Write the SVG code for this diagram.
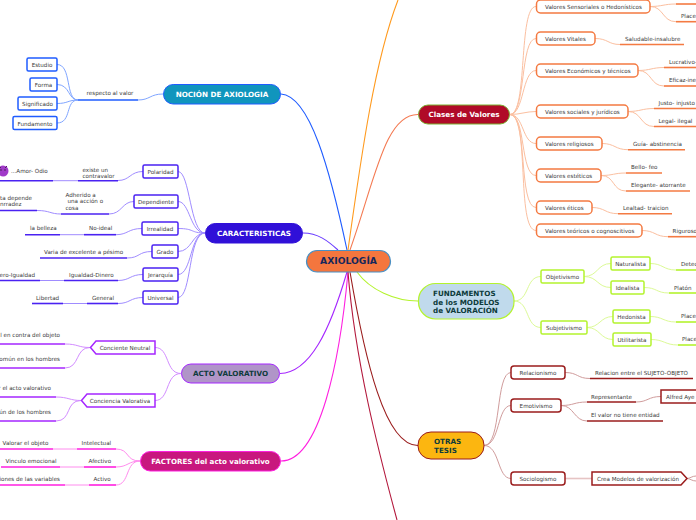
<svg xmlns="http://www.w3.org/2000/svg" width="696" height="520" viewBox="0 0 696 520">
<style>
text{font-family:"DejaVu Sans","Liberation Sans",sans-serif;font-size:5.6px;fill:#3a3a3a;}
.c{text-anchor:middle}
.h{font-weight:bold;font-size:7.2px;fill:#fff;text-anchor:middle}
.s{text-anchor:start}
.e{text-anchor:end}
.d{fill:#0d3b3b}
path,line{fill:none}
.n{fill:#fff;stroke-width:1.5}
.l{stroke-width:1.6}
.blu{stroke:#1f5cff}.pur{stroke:#4a22f2}.vio{stroke:#a526ff}.mag{stroke:#ff1fe0}.ora{stroke:#f47a42}.lim{stroke:#b4f32e}.red{stroke:#9a1c1c}
.m{stroke-width:1.1}
.cblu{stroke:#7fa5ff;stroke-width:1}.cpur{stroke:#a08cff;stroke-width:1}.cvio{stroke:#d28cff;stroke-width:1}.cmag{stroke:#ff8cee;stroke-width:1}.cora{stroke:#fbbfa0;stroke-width:1}.clim{stroke:#dcfa96;stroke-width:1}.cred{stroke:#d09c9c;stroke-width:1}
</style>
<g id="connectors">
<path d="M347 250C330 170 310 96 281 94" stroke="#1f5cff" class="m"/>
<path d="M338 250C328 241 318 233 303 233" stroke="#6a3cff" class="m"/>
<path d="M347 272C330 330 310 373 280 373.500" stroke="#a526ff" class="m"/>
<path d="M348 272C340 360 320 461 281 461" stroke="#ff1fe0" class="m"/>
<path d="M350 250C375 180 385 114 418 114.500" stroke="#f47a52" class="m"/>
<path d="M348 250C362 150 375 60 398 0" stroke="#ff9a1e" class="m"/>
<path d="M357 272C370 290 395 301 418 301" stroke="#b4f32e" class="m"/>
<path d="M350 272C365 360 385 446 418 445.500" stroke="#9a1c1c" class="m"/>
<path d="M348 272C355 360 378 450 397 520" stroke="#b3183c" class="m"/>
<path d="M138 100C150 100 150 94 163 94" class="cblu"/>
<path d="M78 100C65 100 72 64.500 57 64.500M78 100C68 100 70 84.500 57 84.500M78 100C68 100 68 103.500 57 103.500M78 100C65 100 72 123 57 123" class="cblu"/>
<path d="M205 233C190 233 190 171.500 178 171.500M205 233C190 233 190 201.500 178 201.500M205 233C190 233 195 228.500 178 228.500M205 233C192 233 192 251.500 178 251.500M205 233C190 233 192 274.500 178 274.500M205 233C188 233 192 297.500 178 297.500" class="cpur"/>
<path d="M118 180.500C130 180.500 130 171.500 143 171.500M109 214C122 214 122 201.500 134 201.500M116 234.700C128 234.700 128 228.500 142 228.500M127 258C140 258 138 251.500 152 251.500M118 280.500C130 280.500 130 274.500 143 274.500M118 303.500C130 303.500 130 297.500 143 297.500" class="cpur"/>
<path d="M53 180.700H78M37 210.500C50 210.500 50 214 61 214M60 234.700H84M40 280.500H64M63 303.500H87" class="cpur"/>
<path d="M181 373.500C165 373.500 170 347.500 155 347.500M181 373.500C165 373.500 170 400.500 155 400.500" class="cvio"/>
<path d="M65 344C78 344 78 347.500 90 347.500M65 368C80 368 75 347.500 90 347.500M56 397C68 397 70 400.500 81 400.500M56 421C72 421 65 400.500 81 400.500" class="cvio"/>
<path d="M140 461C125 461 130 449 116 449M140 461C128 461 128 467 116 467M140 461C125 461 130 485 116 485M53 449H77M60 467H84M65 485H89" class="cmag"/>
<path d="M510 114.500C528 114.500 518 6.500 536 6.500M510 114.500C526 114.500 520 38.500 536 38.500M510 114.500C524 114.500 522 70.500 536 70.500M510 114.500C520 114.500 526 111.500 536 111.500M510 114.500C524 114.500 522 143.500 536 143.500M510 114.500C526 114.500 520 175.500 536 175.500M510 114.500C528 114.500 518 207.500 536 207.500M510 114.500C530 114.500 516 230.500 536 230.500" class="cora"/>
<path d="M650 6.500C662 6.500 664 4 676 4M650 6.500C664 6.500 662 21.700 676 21.700M595 38.500C608 38.500 608 44.500 620 44.500M638 70.500C650 70.500 652 67.500 664 67.500M638 70.500C652 70.500 650 86 664 86M628 111.500C640 111.500 642 108.500 654 108.500M628 111.500C642 111.500 640 126.500 654 126.500M602 143.500C615 143.500 615 149.700 628 149.700M601 175.500C613 175.500 614 173 626 173M601 175.500C615 175.500 612 191 626 191M592 207.500C605 207.500 605 213.700 618 213.700M642 230.500C655 230.500 655 236.700 668 236.700" class="cora"/>
<path d="M514 301C530 301 525 276.500 541 276.500M514 301C530 301 525 327.500 541 327.500" class="clim"/>
<path d="M584 276.500C598 276.500 597 263.500 611 263.500M584 276.500C598 276.500 597 287.500 611 287.500M587 327.500C600 327.500 600 316.500 613 316.500M587 327.500C600 327.500 600 339.500 613 339.500M650 263.500C663 263.500 663 270 676 270M644 287.500C657 287.500 656 293 669 293M650 316.500C663 316.500 663 322 676 322M651 339.500C664 339.500 665 345 678 345" class="clim"/>
<path d="M484 445.500C502 445.500 495 372.500 511 372.500M484 445.500C500 445.500 497 405.500 511 405.500M484 445.500C500 445.500 497 478.500 511 478.500" class="cred"/>
<path d="M565 372.500C578 372.500 577 378.500 590 378.500M561 405.500C574 405.500 574 402 587 402M561 405.500C574 405.500 574 421 587 421M636 402C648 402 648 396.500 661 396.500" class="cred"/>
<path d="M565 478.500H592" stroke="#e6c4c4" stroke-width="1.600"/>
<path d="M687 478.500C690 478.500 692 476 696 476M687 478.500C690 478.500 692 481 696 481" class="cred"/>
</g>
<g id="axiologia"><rect x="306.500" y="250.500" width="84" height="21.500" rx="10.700" fill="#f4763e" stroke="#4a90c4" stroke-width="1.200"/><text x="348.500" y="264.300" class="h" style="fill:#15275c;font-size:9.200px">AXIOLOGÍA</text></g>

<g id="nocion"><rect x="163.500" y="84.500" width="117" height="19.500" rx="9.700" fill="#1095bd" stroke="#1f5cff" stroke-width="1"/><text x="222" y="97" class="h">NOCIÓN DE AXIOLOGIA</text></g>
<g id="respecto"><text x="110" y="95.200" class="c">respecto al valor</text><line x1="78" y1="100" x2="138" y2="100" class="l blu"/></g>
<g id="estudio"><rect x="27" y="58" width="30" height="13" rx="1.500" class="n blu"/><text x="42" y="67" class="c">Estudio</text></g>
<g id="forma"><rect x="30" y="78" width="27" height="13" rx="1.500" class="n blu"/><text x="43.500" y="86.500" class="c">Forma</text></g>
<g id="significado"><rect x="18" y="97" width="39" height="13" rx="1.500" class="n blu"/><text x="37.500" y="106" class="c">Significado</text></g>
<g id="fundamento"><rect x="13" y="116.500" width="44" height="13" rx="1.500" class="n blu"/><text x="35" y="125.500" class="c">Fundamento</text></g>

<g id="caracteristicas"><rect x="205.500" y="223.500" width="97" height="19.500" rx="9.700" fill="#3010d8" stroke="#3010d8"/><text x="254" y="236" class="h">CARACTERISTICAS</text></g>
<g id="polaridad"><rect x="143" y="165" width="35" height="13" rx="1.500" class="n pur"/><text x="160.500" y="174" class="c">Polaridad</text></g>
<g id="dependiente"><rect x="134" y="195" width="44" height="13" rx="1.500" class="n pur"/><text x="156" y="204" class="c">Dependiente</text></g>
<g id="irrealidad"><rect x="142" y="222" width="36" height="13" rx="1.500" class="n pur"/><text x="160" y="231" class="c">Irrealidad</text></g>
<g id="grado"><rect x="152" y="245" width="26" height="13" rx="1.500" class="n pur"/><text x="165" y="254" class="c">Grado</text></g>
<g id="jerarquia"><rect x="143" y="268" width="35" height="13" rx="1.500" class="n pur"/><text x="160.500" y="277" class="c">Jerarquía</text></g>
<g id="universal"><rect x="143" y="291" width="35" height="13" rx="1.500" class="n pur"/><text x="160.500" y="300" class="c">Universal</text></g>
<g id="contravalor"><text x="82.500" y="171.800">existe un</text><text x="82.500" y="177.800">contravalor</text><line x1="78" y1="180.700" x2="118" y2="180.700" class="l pur"/></g>
<g id="amor"><circle cx="3" cy="171" r="5.500" fill="#a03ac8"/><path d="M-1 166L1 168M7 166L5 168" stroke="#502060"/><circle cx="1" cy="170" r=".8" fill="#402050"/><circle cx="5" cy="170" r=".8" fill="#402050"/><text x="11" y="173">...Amor- Odio</text><line x1="0" y1="180.700" x2="53" y2="180.700" class="l pur"/></g>
<g id="adherido"><text x="65.500" y="197">Adherido a</text><text x="67.500" y="203">una acción o</text><text x="65.500" y="210">cosa</text><line x1="61" y1="214" x2="109" y2="214" class="l pur"/></g>
<g id="honradez"><text x="0" y="200">ta depende</text><text x="0" y="206">nrradez</text><line x1="0" y1="210.500" x2="37" y2="210.500" class="l pur"/></g>
<g id="noideal"><text x="89" y="230">No-ideal</text><line x1="84" y1="234.700" x2="116" y2="234.700" class="l pur"/></g>
<g id="belleza"><text x="30" y="230">la belleza</text><line x1="25" y1="234.700" x2="60" y2="234.700" class="l pur"/></g>
<g id="varia"><text x="44" y="253.500">Varia de excelente a pésimo</text><line x1="40" y1="258" x2="127" y2="258" class="l pur"/></g>
<g id="igualdad"><text x="69" y="276.500">Igualdad-Dinero</text><line x1="64" y1="280.500" x2="118" y2="280.500" class="l pur"/></g>
<g id="dinero"><text x="35" y="276.500" class="e">ero-Igualdad</text><line x1="0" y1="280.500" x2="40" y2="280.500" class="l pur"/></g>
<g id="general"><text x="92" y="299.500">General</text><line x1="87" y1="303.500" x2="118" y2="303.500" class="l pur"/></g>
<g id="libertad"><text x="36" y="299.500">Libertad</text><line x1="32" y1="303.500" x2="63" y2="303.500" class="l pur"/></g>

<g id="acto"><rect x="181.500" y="364" width="98" height="19" rx="9.500" fill="#b095c8" stroke="#a526ff"/><text x="230.500" y="376" class="h d">ACTO VALORATIVO</text></g>
<g id="neutral"><path d="M155 341H96L90.500 347.500L96 354H155Z" class="n vio"/><text x="125" y="349.500" class="c">Conciente Neutral</text></g>
<g id="valorativa"><path d="M155 394H87L81.500 400.500L87 407H155Z" class="n vio"/><text x="120" y="402.500" class="c">Conciencia Valorativa</text></g>
<g id="contra"><text x="60" y="337" class="e">l en contra del objeto</text><line x1="0" y1="344" x2="65" y2="344" class="l vio"/></g>
<g id="comun1"><text x="60" y="361" class="e">omún en los hombres</text><line x1="0" y1="368" x2="65" y2="368" class="l vio"/></g>
<g id="acto2"><text x="51" y="390" class="e">r el acto valorativo</text><line x1="0" y1="397" x2="56" y2="397" class="l vio"/></g>
<g id="comun2"><text x="51" y="414" class="e">ún de los hombres</text><line x1="0" y1="421" x2="56" y2="421" class="l vio"/></g>

<g id="factores"><rect x="140.500" y="451.500" width="140" height="19.500" rx="9.700" fill="#c8187e" stroke="#ff1fe0"/><text x="210.500" y="464" class="h" style="font-size:7.100px">FACTORES del acto valorativo</text></g>
<g id="intelectual"><text x="81.500" y="445">Intelectual</text><line x1="77" y1="449" x2="116" y2="449" class="l mag"/></g>
<g id="afectivo"><text x="88.500" y="463">Afectivo</text><line x1="84" y1="467" x2="116" y2="467" class="l mag"/></g>
<g id="activo"><text x="93.500" y="481">Activo</text><line x1="89" y1="485" x2="116" y2="485" class="l mag"/></g>
<g id="valorar"><text x="2.500" y="445">Valorar el objeto</text><line x1="0" y1="449" x2="53" y2="449" class="l mag"/></g>
<g id="vinculo"><text x="5.500" y="463">Vinculo emocional</text><line x1="1" y1="467" x2="60" y2="467" class="l mag"/></g>
<g id="acciones"><text x="60" y="481" class="e">iones de las variables</text><line x1="0" y1="485" x2="65" y2="485" class="l mag"/></g>

<g id="clases"><rect x="418.500" y="105" width="91" height="19" rx="9.500" fill="#b00a28" stroke="#7ab030"/><text x="464" y="117" class="h">Clases de Valores</text></g>
<g id="sensoriales"><rect x="536.500" y="0" width="113.500" height="13" rx="4" class="n ora"/><text x="545" y="9">Valores Sensoriales o Hedonísticos</text></g>
<g id="vitales"><rect x="536.500" y="32" width="58.500" height="13" rx="4" class="n ora"/><text x="545" y="41">Valores Vitales</text></g>
<g id="economicos"><rect x="536.500" y="64" width="101.500" height="13" rx="4" class="n ora"/><text x="545" y="73">Valores Económicos y técnicos</text></g>
<g id="sociales"><rect x="536.500" y="105" width="91.500" height="13" rx="4" class="n ora"/><text x="545" y="114">Valores sociales y jurídicos</text></g>
<g id="religiosos"><rect x="536.500" y="137" width="65.500" height="13" rx="4" class="n ora"/><text x="545" y="146">Valores religiosos</text></g>
<g id="esteticos"><rect x="536.500" y="169" width="64.500" height="13" rx="4" class="n ora"/><text x="545" y="178">Valores estéticos</text></g>
<g id="eticos"><rect x="536.500" y="201" width="55.500" height="13" rx="4" class="n ora"/><text x="545" y="210">Valores éticos</text></g>
<g id="teoricos"><rect x="536.500" y="224" width="105.500" height="13" rx="4" class="n ora"/><text x="545" y="233">Valores teóricos o cognoscitivos</text></g>
<g id="l0"><line x1="676" y1="4" x2="696" y2="4" class="l ora"/></g>
<g id="l1"><text x="681" y="18">Place</text><line x1="676" y1="21.700" x2="696" y2="21.700" class="l ora"/></g>
<g id="l2"><text x="625" y="41">Saludable-insalubre</text><line x1="620" y1="44.500" x2="684" y2="44.500" class="l ora"/></g>
<g id="l3"><text x="669" y="64">Lucrativo-</text><line x1="664" y1="67.500" x2="696" y2="67.500" class="l ora"/></g>
<g id="l4"><text x="669" y="82">Eficaz-ine</text><line x1="664" y1="86" x2="696" y2="86" class="l ora"/></g>
<g id="l5"><text x="658.500" y="105">Justo- injusto</text><line x1="654" y1="108.500" x2="696" y2="108.500" class="l ora"/></g>
<g id="l6"><text x="658.500" y="123">Legal- ilegal</text><line x1="654" y1="126.500" x2="696" y2="126.500" class="l ora"/></g>
<g id="l7"><text x="633" y="146">Guía- abstinencia</text><line x1="628" y1="149.700" x2="685" y2="149.700" class="l ora"/></g>
<g id="l8"><text x="631" y="169">Bello- feo</text><line x1="626" y1="173" x2="662" y2="173" class="l ora"/></g>
<g id="l9"><text x="631" y="187">Elegante- atorrante</text><line x1="626" y1="191" x2="690" y2="191" class="l ora"/></g>
<g id="l10"><text x="623" y="210">Lealtad- traicion</text><line x1="618" y1="213.700" x2="672" y2="213.700" class="l ora"/></g>
<g id="l11"><text x="672.500" y="233">Riguroso</text><line x1="668" y1="236.700" x2="696" y2="236.700" class="l ora"/></g>

<g id="fundamentos"><rect x="418.500" y="283.500" width="95.500" height="35.500" rx="17" fill="#c0daec" stroke="#b4f32e" stroke-width="1.200"/><text x="433" y="296" class="h d s">FUNDAMENTOS</text><text x="433" y="304.500" class="h d s">de los MODELOS</text><text x="433" y="313" class="h d s">de VALORACIÓN</text></g>
<g id="objetivismo"><rect x="541" y="270" width="43" height="13" rx="1.500" class="n lim"/><text x="562.500" y="279" class="c">Objetivismo</text></g>
<g id="subjetivismo"><rect x="541" y="321" width="46" height="13" rx="1.500" class="n lim"/><text x="564" y="330" class="c">Subjetivismo</text></g>
<g id="naturalista"><rect x="611" y="257" width="39" height="13" rx="1.500" class="n lim"/><text x="630.500" y="266" class="c">Naturalista</text></g>
<g id="idealista"><rect x="611" y="281" width="33" height="13" rx="1.500" class="n lim"/><text x="627.500" y="290" class="c">Idealista</text></g>
<g id="hedonista"><rect x="613" y="310" width="37" height="13" rx="1.500" class="n lim"/><text x="631.500" y="319" class="c">Hedonista</text></g>
<g id="utilitarista"><rect x="613" y="333" width="38" height="13" rx="1.500" class="n lim"/><text x="632" y="342" class="c">Utilitarista</text></g>
<g id="f1"><text x="681" y="266">Detec</text><line x1="676" y1="270" x2="696" y2="270" class="l lim"/></g>
<g id="f2"><text x="674" y="289.500">Platón</text><line x1="669" y1="293" x2="696" y2="293" class="l lim"/></g>
<g id="f3"><text x="681" y="318">Place</text><line x1="676" y1="322" x2="696" y2="322" class="l lim"/></g>
<g id="f4"><text x="682" y="341">Place</text><line x1="678" y1="345" x2="696" y2="345" class="l lim"/></g>

<g id="otras"><rect x="418" y="432" width="66" height="27" rx="13" fill="#fcb610" stroke="#9a1c1c"/><text x="434" y="444" class="h d s">OTRAS</text><text x="434" y="453" class="h d s">TESIS</text></g>
<g id="relacionismo"><rect x="511" y="366" width="54" height="13" rx="3" class="n red"/><text x="538" y="375" class="c">Relacionismo</text></g>
<g id="emotivismo"><rect x="511" y="399" width="50" height="13" rx="3" class="n red"/><text x="536" y="408" class="c">Emotivismo</text></g>
<g id="sociologismo"><rect x="511" y="472" width="54" height="13" rx="3" class="n red"/><text x="538" y="481" class="c">Sociologismo</text></g>
<g id="relacion"><text x="595" y="374.500">Relacion entre el SUJETO-OBJETO</text><line x1="590" y1="378.500" x2="693" y2="378.500" class="l red"/></g>
<g id="representante"><text x="591" y="398.500">Representante</text><line x1="587" y1="402" x2="636" y2="402" class="l red"/></g>
<g id="ayer"><rect x="661" y="390" width="40" height="13" class="n red"/><text x="666" y="399">Alfred Aye</text></g>
<g id="entidad"><text x="591" y="417">El valor no tiene entidad</text><line x1="587" y1="421" x2="663" y2="421" class="l red"/></g>
<g id="crea"><path d="M592 472H681L687 478.500L681 485H592Z" class="n red"/><text x="597" y="481">Crea Modelos de valorización</text></g>
</svg>
